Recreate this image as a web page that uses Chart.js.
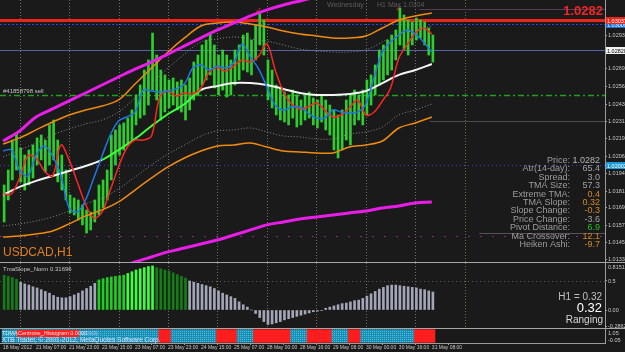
<!DOCTYPE html>
<html>
<head>
<meta charset="utf-8">
<title>USDCAD,H1</title>
<script src="https://cdn.jsdelivr.net/npm/chart.js@4.4.1/dist/chart.umd.min.js"></script>
<style>
  html, body { margin: 0; padding: 0; background: #1a1a1a; }
  #wrap { position: relative; width: 625px; height: 352px; overflow: hidden; background: #1a1a1a; }
  #wrap canvas { position: absolute; left: 0; }
  .sep { position: absolute; left: 0; width: 625px; height: 1px; background: #a6a6a6; }
</style>
</head>
<body>
<div id="wrap">
  <canvas id="main" width="625" height="262" style="top:0"></canvas>
  <div class="sep" style="top:262px"></div>
  <canvas id="slope" width="625" height="65" style="top:263px"></canvas>
  <div class="sep" style="top:328px"></div>
  <canvas id="trend" width="625" height="23" style="top:329px"></canvas>
</div>
<script>
// axis text
var priceTicks = [1.01330, 1.01450, 1.01570, 1.01695, 1.01815, 1.01940, 1.02065, 1.02190, 1.02310, 1.02435, 1.02560, 1.02690, 1.02930];
var timeLabels = ["18 May 2012", "21 May 07:00", "21 May 23:00", "22 May 15:00", "23 May 07:00", "23 May 23:00", "24 May 15:00",
  "25 May 07:00", "28 May 00:00", "28 May 16:00", "29 May 08:00", "30 May 00:00", "30 May 16:00", "31 May 08:00"];
var labelEvery = 16;                       // hours between time labels
var dayStarts = [8, 32, 56, 80, 104, 128, 152, 176, 200, 224]; // hour index of each day
var slotHours = 2;                         // one candle = 2 hours
var bandStep = 8, maStep = 4;              // hours between line samples

// 2-hour candles (high / low)
var highs = [
  1.01859, 1.01966, 1.02180, 1.02230, 1.02123, 1.02073, 1.02109, 1.02145, 1.02195, 1.02216,
  1.02180, 1.02288, 1.02323, 1.02180, 1.02073, 1.01966, 1.01788, 1.01766, 1.01752, 1.01716,
  1.01681, 1.01666, 1.01752, 1.01859, 1.01895, 1.01966, 1.02216, 1.02252, 1.02288, 1.02302,
  1.02337, 1.02395, 1.02502, 1.02573, 1.02680, 1.02752, 1.02944, 1.02787, 1.02680, 1.02645,
  1.02609, 1.02623, 1.02595, 1.02609, 1.02573, 1.02623, 1.02737, 1.02787, 1.02859, 1.02894,
  1.02944, 1.02859, 1.02787, 1.02823, 1.02787, 1.02752, 1.02823, 1.02859, 1.02930, 1.02944,
  1.02894, 1.03002, 1.03087, 1.03037, 1.02752, 1.02680, 1.02573, 1.02552, 1.02523, 1.02502,
  1.02537, 1.02502, 1.02466, 1.02502, 1.02523, 1.02480, 1.02466, 1.02502, 1.02466, 1.02430,
  1.02395, 1.02359, 1.02395, 1.02466, 1.02502, 1.02537, 1.02502, 1.02537, 1.02609, 1.02645,
  1.02716, 1.02823, 1.02859, 1.02894, 1.02930, 1.02966, 1.03123, 1.03073, 1.03037, 1.03023,
  1.03051, 1.03037, 1.03023, 1.02980, 1.02930
];
var lows = [
  1.01595, 1.01752, 1.01895, 1.01966, 1.01881, 1.01823, 1.01859, 1.01909, 1.02002, 1.02038,
  1.01952, 1.02002, 1.02038, 1.01881, 1.01823, 1.01752, 1.01659, 1.01645, 1.01609, 1.01574,
  1.01516, 1.01538, 1.01595, 1.01645, 1.01695, 1.01752, 1.01895, 1.02002, 1.02073, 1.02109,
  1.02145, 1.02180, 1.02288, 1.02337, 1.02359, 1.02430, 1.02537, 1.02466, 1.02323, 1.02380,
  1.02409, 1.02430, 1.02395, 1.02380, 1.02323, 1.02395, 1.02466, 1.02502, 1.02573, 1.02609,
  1.02645, 1.02552, 1.02502, 1.02537, 1.02487, 1.02502, 1.02573, 1.02609, 1.02680, 1.02666,
  1.02645, 1.02752, 1.02859, 1.02787, 1.02466, 1.02409, 1.02359, 1.02323, 1.02309, 1.02288,
  1.02337, 1.02273, 1.02288, 1.02323, 1.02337, 1.02288, 1.02266, 1.02309, 1.02252, 1.02216,
  1.02109, 1.02052, 1.02109, 1.02180, 1.02145, 1.02288, 1.02323, 1.02288, 1.02359, 1.02430,
  1.02502, 1.02573, 1.02609, 1.02645, 1.02680, 1.02752, 1.02859, 1.02823, 1.02787, 1.02859,
  1.02894, 1.02909, 1.02859, 1.02787, 1.02737
];

// TMA bands, one value every 8 hours
var magentaUp = [1.02173, 1.02245, 1.02345, 1.02402, 1.02459, 1.02516, 1.02573, 1.02630, 1.02687, 1.02737, 1.02794, 1.02852, 1.02909, 1.02966,
  1.03016, 1.03066, 1.03109, 1.03144, 1.03173, 1.03201, 1.03223, 1.03244, 1.03266, 1.03280, 1.03294, 1.03301, 1.03309];
var magentaLow = [null, null, null, null, null, null, 1.01231, 1.01267, 1.01309, 1.01345, 1.01381, 1.01409, 1.01438, 1.01466,
  1.01502, 1.01538, 1.01574, 1.01595, 1.01616, 1.01631, 1.01645, 1.01659, 1.01673, 1.01695, 1.01709, 1.01731, 1.01738];
var orangeUp = [1.02152, 1.02195, 1.02252, 1.02309, 1.02359, 1.02395, 1.02423, 1.02466, 1.02580, 1.02694, 1.02809, 1.02909, 1.02994, 1.03016,
  1.03023, 1.03009, 1.02987, 1.02959, 1.02937, 1.02923, 1.02909, 1.02909, 1.02923, 1.02980, 1.03037, 1.03066, 1.03087];
var orangeLow = [1.01488, 1.01495, 1.01509, 1.01531, 1.01581, 1.01638, 1.01681, 1.01738, 1.01823, 1.01909, 1.01988, 1.02052, 1.02102, 1.02138,
  1.02145, 1.02159, 1.02130, 1.02102, 1.02095, 1.02088, 1.02088, 1.02130, 1.02145, 1.02173, 1.02266, 1.02302, 1.02345];
var dotUp = [1.02059, 1.02109, 1.02159, 1.02216, 1.02259, 1.02295, 1.02323, 1.02380, 1.02480, 1.02587, 1.02694, 1.02794, 1.02880, 1.02902,
  1.02916, 1.02902, 1.02887, 1.02859, 1.02830, 1.02816, 1.02809, 1.02809, 1.02823, 1.02880, 1.02937, 1.02966, 1.02994];
var dotLow = [1.01566, 1.01581, 1.01602, 1.01631, 1.01673, 1.01723, 1.01766, 1.01831, 1.01916, 1.02002, 1.02080, 1.02145, 1.02209, 1.02245,
  1.02252, 1.02266, 1.02238, 1.02209, 1.02202, 1.02188, 1.02188, 1.02223, 1.02238, 1.02273, 1.02359, 1.02395, 1.02437];
var tmaMid = [1.01788, 1.01845, 1.01888, 1.01923, 1.01959, 1.01995, 1.02038, 1.02109, 1.02188, 1.02280, 1.02366, 1.02437, 1.02537, 1.02566,
  1.02587, 1.02587, 1.02573, 1.02545, 1.02516, 1.02502, 1.02502, 1.02509, 1.02530, 1.02587, 1.02645, 1.02680, 1.02723];

// moving averages, one value every 4 hours
var fastMa = [
  1.02102, 1.02109, 1.01966, 1.01923, 1.02073, 1.02138, 1.02066, 1.01931, 1.01695, 1.01666,
  1.01752, 1.01909, 1.02066, 1.02216, 1.02316, 1.02345, 1.02380, 1.02537, 1.02530, 1.02523,
  1.02530, 1.02545, 1.02580, 1.02694, 1.02716, 1.02680, 1.02709, 1.02694, 1.02737, 1.02866,
  1.02773, 1.02687, 1.02559, 1.02430, 1.02395, 1.02416, 1.02416, 1.02373, 1.02337, 1.02337,
  1.02395, 1.02380, 1.02373, 1.02380, 1.02437, 1.02630, 1.02809, 1.02880, 1.02930, 1.02966,
  1.02937, 1.02880, 1.02809
];
var slowMa = [
  1.01795, 1.01795, 1.01909, 1.02066, 1.02052, 1.01959, 1.01923, 1.02145, 1.02038, 1.01881,
  1.01723, 1.01623, 1.01666, 1.01823, 1.01988, 1.02123, 1.02180, 1.02180, 1.02209, 1.02487,
  1.02530, 1.02495, 1.02516, 1.02509, 1.02552, 1.02666, 1.02694, 1.02673, 1.02709, 1.02752,
  1.02737, 1.02780, 1.02866, 1.02680, 1.02523, 1.02437, 1.02402, 1.02416, 1.02445, 1.02395,
  1.02345, 1.02359, 1.02409, 1.02466, 1.02359, 1.02380, 1.02459, 1.02552, 1.02766, 1.02859,
  1.02944, 1.02980, 1.02937
];

// horizontal levels: day high, ask, bid, sell order, pivot, weekly
var levelPrices = [1.03037, 1.03009, 1.02820, 1.02502, 1.02002, 1.01495];
var pivotPrices = [1.03116, 1.02316, 1.01516];
var pivotFrom = [202, 207, 231];
var checkHours = [124, 192];
var checkPrices = [1.03109, 1.03123];

// TmaSlope_Norm histogram (per 2-hour slot)
var slope = [
  0.60, 0.58, 0.56, 0.53, 0.48, 0.45, 0.43, 0.40, 0.38, 0.35,
  0.32, 0.29, 0.25, 0.22, 0.21, 0.21, 0.23, 0.26, 0.29, 0.33,
  0.37, 0.41, 0.46, 0.52, 0.54, 0.56, 0.57, 0.58, 0.59, 0.60,
  0.63, 0.66, 0.69, 0.71, 0.73, 0.75, 0.76, 0.73, 0.71, 0.69,
  0.67, 0.64, 0.61, 0.58, 0.55, 0.50, 0.48, 0.46, 0.44, 0.42,
  0.40, 0.37, 0.33, 0.29, 0.26, 0.23, 0.20, 0.14, 0.09, 0.05,
  0.00, -0.06, -0.13, -0.20, -0.25, -0.24, -0.22, -0.20, -0.17, -0.15,
  -0.13, -0.11, -0.09, -0.07, -0.05, -0.03, -0.02, -0.01, 0.03, 0.05,
  0.07, 0.09, 0.11, 0.12, 0.14, 0.16, 0.17, 0.20, 0.24, 0.28,
  0.32, 0.36, 0.39, 0.42, 0.43, 0.43, 0.42, 0.41, 0.40, 0.39,
  0.38, 0.36, 0.35, 0.33, 0.31
];
var slopeTicks = [0.5, 0, -0.2862];
var slopeTickLabels = ["0.5", "0.00", "-0.2862"];

// Centrone histogram state, 1 = up, -1 = down
var trend = [
  1, 1, 1, 1, 1, 1, 1, 1, 1, 1,
  1, 1, 1, 1, 1, 1, 1, 1, 1, 1,
  1, 1, 1, 1, 1, 1, 1, 1, 1, 1,
  1, 1, 1, 1, 1, 1, 1, 1, -1, -1,
  -1, 1, 1, 1, 1, 1, 1, 1, 1, 1,
  1, 1, -1, -1, -1, -1, -1, 1, 1, 1,
  1, -1, -1, -1, -1, -1, -1, -1, -1, -1,
  1, 1, 1, 1, -1, -1, -1, -1, -1, -1,
  1, 1, 1, 1, -1, -1, -1, 1, 1, 1,
  1, 1, 1, 1, 1, 1, 1, 1, 1, 1,
  -1, -1, -1, -1, -1
];

var infoLabels = ["Price:", "Atr(14-day):", "Spread:", "TMA Size:", "Extreme TMA:", "TMA Slope:", "Slope Change:", "Price Change:", "Pivot Distance:", "Ma Crossover:", "Heiken Ashi:"];
var infoValues = ["1.0282", "65.4", "3.0", "57.3", "0.4", "0.32", "-0.3", "-3.6", "6.9", "12.1", "-9.7"];

// ---- styles ----
Chart.defaults.font.family = "'Liberation Sans', Arial, sans-serif";
var axisLine = "#9c9c9c";
var axisText = "#c8c8c8";
var xMin = -1.5, xMax = 292;
var fontSmall = "5.5px 'Liberation Sans', Arial, sans-serif";
var levelStyles = [
  { color: "#e8261c", width: 3, dash: [], box: "#e8261c", boxText: "#ffffff" },
  { color: "#2446ff", width: 1, dash: [2, 2], box: "#1a6ad0", boxText: "#ffffff" },
  { color: "#5860a8", width: 1, dash: [], box: "#f0f0f0", boxText: "#000000" },
  { color: "#1fa01f", width: 1.5, dash: [6, 3, 2, 3] },
  { color: "#3346c8", width: 1, dash: [1, 3], box: "#1c9bd6", boxText: "#ffffff" },
  { color: "#8a2a8a", width: 1, dash: [2, 10] }
];
var pivotColors = ["#5a3c5a", "#4c4c4c", "#555555"];
var infoColors = ["#b4b4b4", "#a0a0a0", "#a0a0a0", "#a0a0a0", "#d08a20", "#d08a20", "#d08a20", "#a0a0a0", "#22c022", "#d08a20", "#d08a20"];

function fitRight(s) { s.width = 20; s.paddingTop = 0; s.paddingBottom = 0; }

function text(ctx, s, x, y, font, color, align) {
  ctx.font = font;
  ctx.fillStyle = color;
  ctx.textAlign = align || "left";
  ctx.textBaseline = "alphabetic";
  ctx.fillText(s, x, y);
}

function drawDays(chart) {
  var ctx = chart.ctx, a = chart.chartArea, x = chart.scales.x;
  ctx.save();
  ctx.strokeStyle = "#707062";
  ctx.setLineDash([1, 2]);
  ctx.lineWidth = 1;
  dayStarts.forEach(function (h) {
    var px = Math.round(x.getPixelForValue(h)) + 0.5;
    ctx.beginPath(); ctx.moveTo(px, a.top); ctx.lineTo(px, a.bottom); ctx.stroke();
  });
  ctx.restore();
}

function series(values, step, color, width, dash) {
  return {
    type: "line",
    data: values.map(function (v, k) { return { x: k * step, y: v }; }),
    borderColor: color,
    borderWidth: width,
    borderDash: dash || [],
    pointRadius: 0,
    tension: 0.35,
    fill: false,
    order: 1
  };
}

function dotPattern(base, dot) {
  var c = document.createElement("canvas");
  c.width = 2; c.height = 2;
  var g = c.getContext("2d");
  g.fillStyle = base; g.fillRect(0, 0, 2, 2);
  g.fillStyle = dot; g.fillRect(0, 0, 1, 1);
  return g.createPattern(c, "repeat");
}

var commonPlugins = { legend: { display: false }, tooltip: { enabled: false } };

// ---- main price window ----
var mainDecor = {
  id: "mainDecor",
  beforeDatasetsDraw: function (chart) {
    var ctx = chart.ctx, a = chart.chartArea, x = chart.scales.x, y = chart.scales.y;
    drawDays(chart);
    ctx.save();
    levelPrices.forEach(function (p, i) {
      var st = levelStyles[i];
      var py = Math.round(y.getPixelForValue(p)) + 0.5;
      ctx.strokeStyle = st.color; ctx.lineWidth = st.width; ctx.setLineDash(st.dash);
      ctx.beginPath(); ctx.moveTo(a.left, py); ctx.lineTo(a.right, py); ctx.stroke();
    });
    ctx.setLineDash([]);
    pivotPrices.forEach(function (p, i) {
      var py = Math.round(y.getPixelForValue(p)) + 0.5;
      ctx.strokeStyle = pivotColors[i]; ctx.lineWidth = 1;
      ctx.beginPath(); ctx.moveTo(x.getPixelForValue(pivotFrom[i]), py); ctx.lineTo(a.right, py); ctx.stroke();
    });
    ctx.restore();
  },
  afterDraw: function (chart) {
    var ctx = chart.ctx, x = chart.scales.x, y = chart.scales.y;
    ctx.save();
    text(ctx, "Wednesday", 327, 7, "7px 'Liberation Sans', Arial", "#5c5c5c");
    text(ctx, "H1 Max 1.0304", 377, 7, "7px 'Liberation Sans', Arial", "#5c5c5c");
    text(ctx, "1.0282", 603, 15, "bold 13px 'Liberation Sans', Arial", "#f42424", "right");
    text(ctx, "#41858798 sell", 3, 93, "6px 'Liberation Sans', Arial", "#c4c4c4");
    text(ctx, "USDCAD,H1", 3, 256, "12px 'Liberation Sans', Arial", "#e0801c");
    checkHours.forEach(function (h, i) {
      text(ctx, "\u2713", x.getPixelForValue(h), y.getPixelForValue(checkPrices[i]) + 3, "8px 'DejaVu Sans'", "#ff3030", "center");
    });
    infoLabels.forEach(function (lab, i) {
      var by = 163 + i * 8.4;
      text(ctx, lab, 570, by, "9px 'Liberation Sans', Arial", "#9c9c9c", "right");
      text(ctx, infoValues[i], 600, by, "9px 'Liberation Sans', Arial", infoColors[i], "right");
    });
    // price boxes on the axis
    [1, 0, 2, 4].forEach(function (i) {
      var st = levelStyles[i];
      var py = Math.round(y.getPixelForValue(levelPrices[i]));
      ctx.fillStyle = st.box;
      ctx.fillRect(606, py - 3, 19, 7);
      text(ctx, levelPrices[i].toFixed(5), 607, py + 2.5, fontSmall, st.boxText);
    });
    ctx.restore();
  }
};

var datasets = [
  {
    type: "bar",
    data: highs.map(function (h, k) { return { x: k * slotHours + 0.5, y: [lows[k], h] }; }),
    backgroundColor: "#2ccf2c",
    borderWidth: 0,
    barThickness: 2,
    grouped: false,
    order: 5
  },
  series(magentaUp, bandStep, "#e81ee8", 3),
  series(magentaLow, bandStep, "#e81ee8", 3),
  series(orangeUp, bandStep, "#f08a10", 1.5),
  series(orangeLow, bandStep, "#f08a10", 1.5),
  series(dotUp, bandStep, "#8a8a8a", 1, [1, 2]),
  series(dotLow, bandStep, "#8a8a8a", 1, [1, 2]),
  series(fastMa, maStep, "#1e78e6", 1.5),
  series(slowMa, maStep, "#ff2424", 1.5)
];
var mid = series(tmaMid, bandStep, "#f4f4f4", 2);
mid.segment = {
  borderColor: function (c) { return c.p0.parsed.x >= 48 && c.p0.parsed.x < 96 ? "#3cff3c" : "#f4f4f4"; }
};
datasets.push(mid);

new Chart(document.getElementById("main"), {
  type: "bar",
  data: { datasets: datasets },
  options: {
    responsive: false,
    animation: false,
    events: [],
    layout: { padding: 0 },
    plugins: commonPlugins,
    scales: {
      x: { type: "linear", min: xMin, max: xMax, offset: false, display: false },
      y: {
        position: "right",
        min: 1.01309,
        max: 1.0318,
        afterBuildTicks: function (s) { s.ticks = priceTicks.map(function (v) { return { value: v }; }); },
        afterFit: fitRight,
        ticks: { color: axisText, font: { size: 5.5 }, padding: 1, callback: function (v) { return v.toFixed(5); } },
        grid: { drawOnChartArea: false, tickLength: 2, color: axisLine },
        border: { color: axisLine }
      }
    }
  },
  plugins: [mainDecor]
});

// ---- TmaSlope_Norm window ----
var slopeColors = slope.map(function (v, i) {
  var rising = i > 0 && v > slope[i - 1];
  if (v > 0.5 && rising) return v > 0.62 ? "#3dff3d" : "#1fcf1f";
  if (v > 0.5) return "#157d15";
  return "#a2a6b6";
});

var slopeDecor = {
  id: "slopeDecor",
  beforeDatasetsDraw: function (chart) {
    var ctx = chart.ctx, a = chart.chartArea, y = chart.scales.y;
    drawDays(chart);
    ctx.save();
    var py = Math.round(y.getPixelForValue(0.5)) + 0.5;
    ctx.strokeStyle = "#5a5a5a"; ctx.setLineDash([1, 3]); ctx.lineWidth = 1;
    ctx.beginPath(); ctx.moveTo(a.left, py); ctx.lineTo(a.right, py); ctx.stroke();
    ctx.restore();
  },
  afterDraw: function (chart) {
    var ctx = chart.ctx;
    ctx.save();
    text(ctx, "TmaSlope_Norm 0.31696", 3, 8, "6px 'Liberation Sans', Arial", "#c8c8c8");
    text(ctx, "0.81511", 608, 6, fontSmall, axisText);
    text(ctx, "H1 = 0.32", 602, 37, "10px 'Liberation Sans', Arial", "#c0c0c0", "right");
    text(ctx, "0.32", 602, 49, "13px 'Liberation Sans', Arial", "#ffffff", "right");
    text(ctx, "Ranging", 603, 60, "10px 'Liberation Sans', Arial", "#d8d8d8", "right");
    ctx.restore();
  }
};

new Chart(document.getElementById("slope"), {
  type: "bar",
  data: {
    datasets: [{
      data: slope.map(function (v, k) { return { x: k * slotHours + 0.5, y: v }; }),
      backgroundColor: slopeColors,
      barThickness: 2,
      grouped: false
    }]
  },
  options: {
    responsive: false,
    animation: false,
    events: [],
    layout: { padding: 0 },
    plugins: commonPlugins,
    scales: {
      x: { type: "linear", min: xMin, max: xMax, offset: false, display: false },
      y: {
        position: "right",
        min: -0.3103,
        max: 0.8103,
        afterBuildTicks: function (s) { s.ticks = slopeTicks.map(function (v) { return { value: v }; }); },
        afterFit: fitRight,
        ticks: { color: axisText, font: { size: 5.5 }, padding: 1, callback: function (v, i) { return slopeTickLabels[i]; } },
        grid: { drawOnChartArea: false, tickLength: 2, color: axisLine },
        border: { color: axisLine }
      }
    }
  },
  plugins: [slopeDecor]
});

// ---- Centrone histogram strip + time axis ----
var upFill = dotPattern("#1a8db3", "#4cc0e4");
var trendDecor = {
  id: "trendDecor",
  afterDraw: function (chart) {
    var ctx = chart.ctx;
    ctx.save();
    ctx.fillStyle = "#ff1e1e";
    ctx.fillRect(17, 1, 62, 7);
    text(ctx, "TDMA", 2, 6, fontSmall, "#eaeaea");
    text(ctx, "Centrone_Histogram 0.0000", 18, 6, fontSmall, "#eaeaea");
    text(ctx, "0.0000", 81, 6, fontSmall, "#a8c8ff");
    text(ctx, "XTB Trader, \u00a9 2001-2012, MetaQuotes Software Corp.", 2, 13, "6.5px 'Liberation Sans', Arial", "#d8e4ff");
    text(ctx, "1.05", 608, 6, fontSmall, axisText);
    text(ctx, "-0.05", 608, 13, fontSmall, axisText);
    ctx.restore();
  }
};

new Chart(document.getElementById("trend"), {
  type: "bar",
  data: {
    datasets: [{
      data: trend.map(function (t, k) { return { x: k * slotHours + 0.5, y: Math.abs(t) }; }),
      backgroundColor: trend.map(function (t) { return t > 0 ? upFill : "#ff1e1e"; }),
      barPercentage: 1, categoryPercentage: 1, grouped: false
    }]
  },
  options: {
    responsive: false,
    animation: false,
    events: [],
    layout: { padding: 0 },
    plugins: commonPlugins,
    scales: {
      x: {
        type: "linear", min: xMin, max: xMax, offset: false,
        afterBuildTicks: function (s) { s.ticks = timeLabels.map(function (t, i) { return { value: i * labelEvery }; }); },
        afterFit: function (s) { s.height = 9; s.paddingLeft = 0; s.paddingRight = 0; },
        ticks: {
          color: axisText, font: { size: 5 }, padding: 0, align: "start",
          autoSkip: false, maxRotation: 0, minRotation: 0,
          callback: function (v, i) { return timeLabels[i]; }
        },
        grid: { drawOnChartArea: false, tickLength: 2, color: axisLine },
        border: { color: axisLine }
      },
      y: {
        position: "right",
        min: -0.05,
        max: 1.05,
        afterBuildTicks: function (s) { s.ticks = []; },
        afterFit: fitRight,
        ticks: { display: false },
        grid: { drawOnChartArea: false, drawTicks: false },
        border: { color: axisLine }
      }
    }
  },
  plugins: [trendDecor]
});
</script>
</body>
</html>
